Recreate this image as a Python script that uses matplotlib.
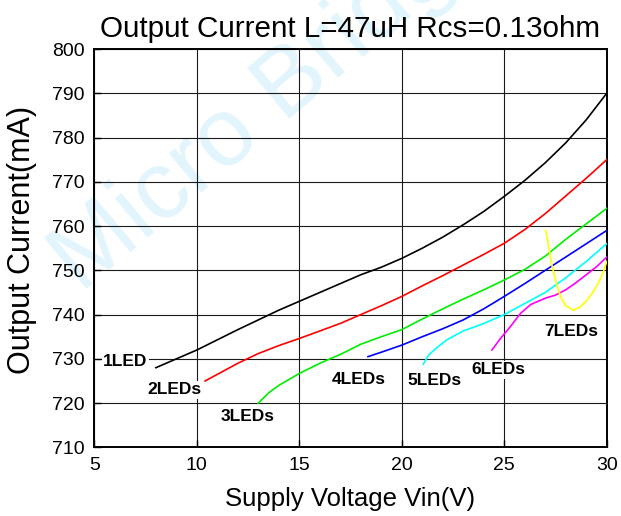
import matplotlib
matplotlib.use('Agg')
import matplotlib.pyplot as plt

plt.rcParams['font.family'] = ['Liberation Sans', 'DejaVu Sans']

# Curves (Vin in V, current in mA)
v_1led = [8, 9, 10, 11, 12, 13, 14, 15, 16, 17, 18, 19, 20, 21, 22, 23, 24, 25, 26, 27, 28, 29, 30]
i_1led = [728, 730, 732, 734.3, 736.6, 738.8, 741, 743, 745, 747, 749, 750.7, 752.7, 755, 757.5,
          760.3, 763.3, 766.7, 770.3, 774.3, 778.8, 784, 790]

v_2led = [10.4, 11, 12, 13, 14, 15, 16, 17, 18, 19, 20, 21, 22, 23, 24, 25, 26, 27, 28, 29, 30]
i_2led = [725, 726.5, 729, 731.2, 733, 734.6, 736.3, 738, 740, 742, 744.1, 746.5, 748.8, 751.2,
          753.6, 756.1, 759.2, 762.8, 766.8, 770.8, 775]

v_3led = [13, 13.5, 14, 15, 16, 17, 18, 19, 20, 21, 22, 23, 24, 25, 26, 27, 28, 29, 30]
i_3led = [720, 722.3, 724, 726.7, 729, 731, 733.3, 735, 736.6, 739, 741.3, 743.5, 745.6, 747.8,
          750.2, 753.2, 757, 760.5, 764]

v_4led = [18.35, 19, 20, 21, 22, 23, 24, 25, 26, 27, 28, 29, 30]
i_4led = [730.5, 731.5, 733.1, 735, 736.8, 738.8, 741.3, 744.1, 747, 750, 753, 756, 759]

v_5led = [21.05, 21.3, 21.7, 22.2, 23, 24, 25, 26, 27, 28, 29, 30]
i_5led = [728.8, 730.8, 732.5, 734.3, 736.3, 738, 740, 742.5, 745, 748.3, 752, 756]

v_6led = [24.4, 24.8, 25.3, 25.8, 26.3, 27, 27.5, 28, 28.5, 29, 29.5, 30]
i_6led = [732, 734.5, 737.3, 740.3, 742.3, 743.7, 744.4, 745.6, 747.2, 749, 750.8, 753]

v_7led = [27.03, 27.2, 27.34, 27.55, 27.75, 28, 28.37, 28.7, 29.05, 29.35, 29.62, 29.85, 30]
i_7led = [759, 754.5, 750.8, 747, 744, 742, 741, 741.7, 743.3, 745.2, 747.4, 749.8, 752]

series = [
    (v_1led, i_1led, 'black', '1LED', 6.5, 729.4),
    (v_2led, i_2led, '#ff0000', '2LEDs', 8.9, 723.0),
    (v_3led, i_3led, '#00ee00', '3LEDs', 12.5, 716.9),
    (v_4led, i_4led, '#0000ff', '4LEDs', 17.9, 725.4),
    (v_5led, i_5led, '#00ffff', '5LEDs', 21.6, 725.2),
    (v_6led, i_6led, '#ff00ff', '6LEDs', 24.7, 727.5),
    (v_7led, i_7led, '#ffff00', '7LEDs', 28.25, 736.1),
]

fig = plt.figure(figsize=(6.21, 5.16), dpi=100)
ax = fig.add_axes([0.152, 0.133, 0.825, 0.772])

# faint watermark, behind everything (runs off the top like the original)
fig.text(0.13, 0.43, 'Micro Bridge', fontsize=70, color='#e2f5fd', rotation=40,
         ha='left', va='baseline', rotation_mode='anchor', zorder=-1)
ax.patch.set_alpha(0)

for v, i, c, name, tx, ty in series:
    ax.plot(v, i, color=c, lw=1.2, zorder=3)
    ax.text(tx, ty, name, fontsize=12.5, fontweight='bold', ha='center', va='center',
            bbox=dict(facecolor='white', edgecolor='none', pad=1), zorder=4)

ax.set_xlim(5, 30)
ax.set_ylim(710, 800)
ax.set_xticks([5, 10, 15, 20, 25, 30])
ax.set_yticks(range(710, 801, 10))
ax.grid(True, color='#1a1a1a', lw=0.8, zorder=1)
ax.set_axisbelow(True)
ax.tick_params(direction='in', length=5, width=1, labelsize=14, pad=7)
for s in ax.spines.values():
    s.set_linewidth(1.4)

ax.set_title('Output Current L=47uH Rcs=0.13ohm', fontsize=21.3, pad=9)
ax.set_xlabel('Supply Voltage Vin(V)', fontsize=18.5)
ax.xaxis.set_label_coords(0.5, -0.1)
ax.set_ylabel('Output Current(mA)', fontsize=22)
ax.yaxis.set_label_coords(-0.112, 0.52)

fig.savefig('out.png', dpi=100)
